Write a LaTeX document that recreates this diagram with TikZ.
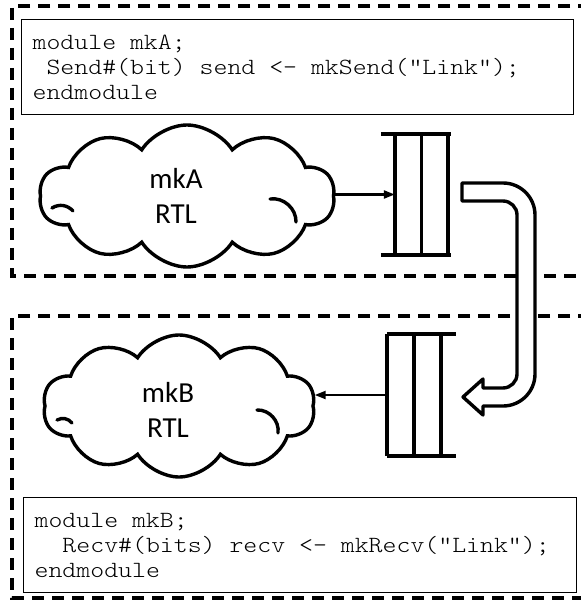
\documentclass[tikz,border=0pt]{standalone}
\usepackage{fontspec}
\setmonofont{Latin Modern Mono Light}[FakeStretch=1.143]
\setsansfont{Carlito}
\usetikzlibrary{arrows.meta, positioning, shapes.symbols, calc}
\protected\def\codefont{\fontsize{23.2}{25}\selectfont\ttfamily}
% one space = one character cell in the code listings
\protected\def\codespacing{\spaceskip=\fontcharwd\font`\x\relax \xspaceskip=\spaceskip}

\begin{document}
\begin{tikzpicture}[
    x=1pt, y=-1pt,
    boundary/.style={line width=3.2pt, dash pattern=on 12pt off 8pt},
    codebox/.style={draw, line width=1.3pt, minimum height=95pt, text width=#1, inner xsep=11pt, align=left, anchor=north west,
      font=\codefont, execute at begin node=\codespacing},
    blob/.style={cloud, draw, line width=3.4pt, cloud puffs=10, cloud puff arc=115, aspect=2, minimum width=295pt, minimum height=142pt, fill=white},
    blobtext/.style={font=\fontsize{29}{35}\selectfont\sffamily, align=center},
    curl/.style={line width=3.4pt, line cap=round},
    fifo/.style={minimum width=53pt, minimum height=121pt, inner sep=0pt},
    fifoline/.style={line width=3.6pt},
    wire/.style={-{Triangle[length=11pt, width=8pt]}, line width=2.2pt},
    pipe/.style={line width=3.4pt, fill=white, line join=round},
]
\useasboundingbox (0,0) rectangle (580,609);

% module boundaries
\draw[boundary] (590,6) -| (12,276) -- (590,276);
\draw[boundary] (590,316) -| (12,598) -- (590,598);

% source code
\node[codebox=530pt] (codeA) at (21,19) {module mkA;\\
\hspace*{0.6em}Send\#(bit) send <- mkSend("Link”);\\
endmodule};
\node[codebox=531pt] (codeB) at (23,497) {module mkB;\\
\hspace*{1.2em}Recv\#(bits) recv <- mkRecv("Link”);\\
endmodule};

% RTL clouds
\node[blob] (cloudA) at (187,196) {};
\node[blobtext] (textA) at (176,196) {mkA\\RTL};
\node[blob, minimum width=272pt] (cloudB) at (179,406) {};
\node[blobtext] (textB) at (168,410) {mkB\\RTL};

% inner folds of the clouds
\draw[curl] ($(cloudA)+(83,3)$) to[bend left=50] ($(cloudA)+(109,26)$);
\draw[curl] ($(cloudA)+(-135,12)$) to[bend left=40] ($(cloudA)+(-114,15)$);
\draw[curl] ($(cloudB)+(78,4)$) to[bend left=50] ($(cloudB)+(99,27)$);
\draw[curl] ($(cloudB)+(-122,14)$) to[bend left=40] ($(cloudB)+(-107,17)$);

% FIFOs
\node[fifo] (fifoA) at (421.5,194.5) {};
\node[fifo, minimum height=122pt, minimum width=54pt] (fifoB) at (414,395) {};

\draw[fifoline] ([xshift=-14pt]fifoA.north west) -- ([xshift=3pt]fifoA.north east);
\draw[fifoline] ([xshift=-14pt]fifoA.south west) -- ([xshift=3pt]fifoA.south east);
\foreach \p in {west, center, east}
  \draw[fifoline] (fifoA.north -| fifoA.\p) -- (fifoA.south -| fifoA.\p);

\draw[fifoline] (fifoB.north west) -- ([xshift=15pt]fifoB.north east);
\draw[fifoline] (fifoB.south west) -- ([xshift=15pt]fifoB.south east);
\foreach \p in {west, center, east}
  \draw[fifoline] (fifoB.north -| fifoB.\p) -- (fifoB.south -| fifoB.\p);

% connections
\draw[wire] (cloudA.east |- fifoA.west) -- (fifoA.west);
\draw[wire] (fifoB.west) -- (cloudB.east |- fifoB.west);

% link between the FIFOs
\draw[pipe] (462,183) -- (503,183) arc[start angle=-90, end angle=0, radius=32]
  -- (535,374) arc[start angle=0, end angle=90, radius=32]
  -- (483,406) -- (483,415) -- (463,397) -- (483,379) -- (483,388)
  -- (503,388) arc[start angle=90, end angle=0, radius=14]
  -- (517,215) arc[start angle=0, end angle=-90, radius=14]
  -- (462,201) -- cycle;

\end{tikzpicture}
\end{document}
